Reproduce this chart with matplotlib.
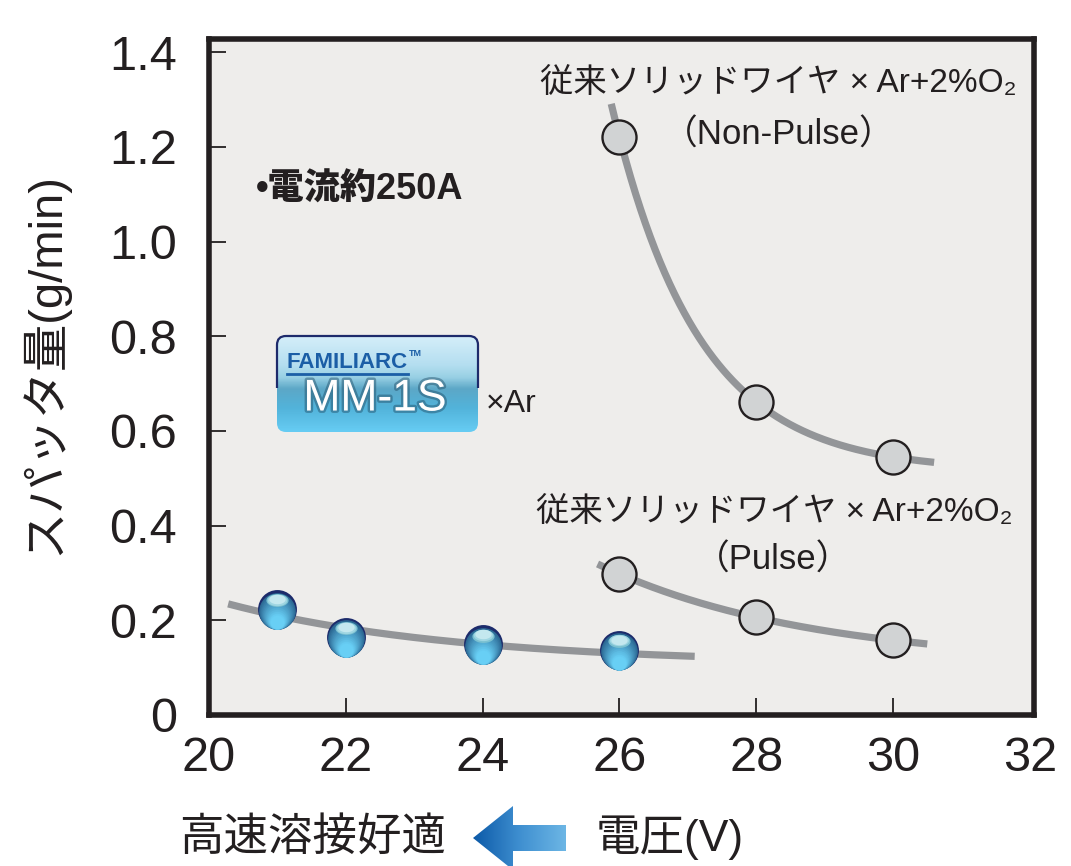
import numpy as np
import matplotlib
matplotlib.use('Agg')
import matplotlib.pyplot as plt
import matplotlib.patheffects as pe
from matplotlib.path import Path
from matplotlib.patches import FancyBboxPatch, Polygon, Rectangle
from matplotlib.transforms import offset_copy
from matplotlib.colors import LinearSegmentedColormap, to_rgb

plt.rcParams['font.family'] = ['Liberation Sans', 'Noto Sans CJK JP', 'DejaVu Sans']

# ---- data ----
volt_mm1s = [21, 22, 24, 26]
spatter_mm1s = [0.223, 0.164, 0.149, 0.137]
volt_nonpulse = [26, 28, 30]
spatter_nonpulse = [1.221, 0.661, 0.545]
volt_pulse = [26, 28, 30]
spatter_pulse = [0.298, 0.206, 0.158]

# voltage span of each drawn trend curve
span_mm1s = (20.28, 27.1)
span_nonpulse = (25.88, 30.6)
span_pulse = (25.68, 30.5)

xticks = [20, 22, 24, 26, 28, 30, 32]
yticks = [0, 0.2, 0.4, 0.6, 0.8, 1.0, 1.2, 1.4]
ytick_labels = ['0', '0.2', '0.4', '0.6', '0.8', '1.0', '1.2', '1.4']

label_conv = '従来ソリッドワイヤ × Ar+2%O₂'
label_nonpulse = '（Non-Pulse）'
label_pulse = '（Pulse）'
label_current = '•電流約250A'
ylabel = 'スパッタ量(g/min)'

INK = '#231f20'
CURVE = '#939598'


def fit_decay(x, y, rates):
    # y = a + b*exp(-c*(x-x0)), c picked from rates by least squares
    x = np.asarray(x, float)
    y = np.asarray(y, float)
    best = None
    for c in rates:
        A = np.column_stack([np.ones_like(x), np.exp(-c * (x - x[0]))])
        coef = np.linalg.lstsq(A, y, rcond=None)[0]
        err = np.sum((A @ coef - y)**2)
        if best is None or err < best[0]:
            best = (err, c, coef)
    _, c, (a, b) = best
    return lambda t: a + b * np.exp(-c * (t - x[0]))


def glass_balls(ax, fig, x, y, size=28, n=22):
    dark = np.array(to_rgb('#2a6590'))
    light = np.array(to_rgb('#68cff5'))
    ax.plot(x, y, 'o', ms=size, mfc='#1c2b6b', mec='none', zorder=4)
    for k in range(n):
        t = k / (n - 1)
        d = (size - 1.6) * (1 - 0.62 * t)
        tr = offset_copy(ax.transData, fig=fig, x=0, y=-(size - d) / 2, units='points')
        ax.plot(x, y, 'o', ms=d, mfc=dark + (light - dark) * t**0.9, mec='none',
                transform=tr, zorder=5)
    th = np.linspace(0, 2 * np.pi, 60)
    ell = Path(np.column_stack([np.cos(th), 0.58 * np.sin(th)]))
    hl = [('#7bc1d1', 0.57, 0.23), ('#9fd6e2', 0.50, 0.25), ('#c4e8ef', 0.42, 0.27)]
    for col, w, up in hl:
        tr = offset_copy(ax.transData, fig=fig, x=0, y=up * size, units='points')
        ax.plot(x, y, marker=ell, ls='none', ms=w * size, mfc=col, mec='none',
                transform=tr, zorder=6)


fig = plt.figure(figsize=(10.71, 8.66), dpi=100)
ax = fig.add_axes([209 / 1071, 1 - 715 / 866, 825 / 1071, 676 / 866])
ax.set_facecolor('#eeedeb')

# trend curves
for vx, vy, span, rates in [(volt_mm1s, spatter_mm1s, span_mm1s, [0.3]),
                            (volt_nonpulse, spatter_nonpulse, span_nonpulse, np.linspace(0.05, 2, 400)),
                            (volt_pulse, spatter_pulse, span_pulse, np.linspace(0.05, 2, 400))]:
    f = fit_decay(vx, vy, rates)
    xs = np.linspace(span[0], span[1], 200)
    ax.plot(xs, f(xs), color=CURVE, lw=5.2, solid_capstyle='butt', zorder=2)

ax.plot(volt_nonpulse, spatter_nonpulse, 'o', ms=24.5, mfc='#d1d3d4', mec=INK, mew=1.7, zorder=4)
ax.plot(volt_pulse, spatter_pulse, 'o', ms=24.5, mfc='#d1d3d4', mec=INK, mew=1.7, zorder=4)
glass_balls(ax, fig, volt_mm1s, spatter_mm1s)

ax.set_xlim(20, 32.06)
ax.set_ylim(0, 1.428)
ax.set_xticks(xticks)
ax.set_yticks(yticks, labels=ytick_labels)
ax.tick_params(direction='in', length=12, width=1.3, color=INK, labelcolor=INK, labelsize=35)
ax.tick_params(axis='x', pad=15)
ax.tick_params(axis='y', pad=23)
ax.xaxis.get_major_ticks()[-1].tick1line.set_visible(False)
for s in ax.spines.values():
    s.set_linewidth(4)
    s.set_color(INK)
    s.set_capstyle('projecting')
ax.set_ylabel(ylabel, fontsize=34, color=INK)
ax.yaxis.set_label_coords(-0.17, 0.52)

# overlay in pixel coordinates for annotations
ov = fig.add_axes([0, 0, 1, 1], zorder=5)
ov.set_xlim(0, 1071)
ov.set_ylim(866, 0)
ov.axis('off')

ov.text(778, 83, label_conv, ha='center', va='center', fontsize=24, color=INK)
ov.text(779, 135, label_nonpulse, ha='center', va='center', fontsize=25, color=INK)
ov.text(774, 512, label_conv, ha='center', va='center', fontsize=24, color=INK)
ov.text(773, 560, label_pulse, ha='center', va='center', fontsize=25, color=INK)
ov.text(256, 190, label_current, ha='left', va='center', fontsize=26, fontweight='heavy', color=INK)
ov.text(486, 404, '×Ar', ha='left', va='center', fontsize=23, color=INK)

# product badge
box_cmap = LinearSegmentedColormap.from_list('box', [
    (0.0, '#d4eef9'), (0.3, '#b4def0'), (0.43, '#98d0e4'), (0.55, '#5ca7c7'),
    (0.75, '#52b3da'), (1.0, '#66ccf3')])
grad = np.linspace(0, 1, 100)[:, None] * np.ones((1, 2))
im = ov.imshow(grad, cmap=box_cmap, extent=(277, 478, 432, 336), aspect='auto', zorder=1)
box = FancyBboxPatch((277, 336), 201, 96, boxstyle='round,pad=0,rounding_size=9',
                     fc='none', ec='none', zorder=1)
ov.add_patch(box)
im.set_clip_path(box)
rim = FancyBboxPatch((277, 336), 201, 96, boxstyle='round,pad=0,rounding_size=9',
                     fc='none', ec='#1d2a6b', lw=1.6, zorder=2)
ov.add_patch(rim)
rim.set_clip_path(Rectangle((270, 328), 220, 60, transform=ov.transData))
ov.text(286, 362, 'FAMILIARC', ha='left', va='center', fontsize=16, fontweight='bold',
        color='#1b5ea6', zorder=3)
ov.plot([287, 408], [374, 374], color='#1b5ea6', lw=2, zorder=3)
ov.text(409, 354, 'TM', ha='left', va='center', fontsize=6.5, fontweight='bold',
        color='#1b5ea6', zorder=3)
ov.text(375, 399, 'MM-1S', ha='center', va='center', fontsize=32, color='white', zorder=3,
        path_effects=[pe.withStroke(linewidth=3.5, foreground='#1e4a63', alpha=0.45)])

# bottom axis caption with arrow
ov.text(313, 838, '高速溶接好適', ha='center', va='center', fontsize=32, color=INK)
ov.text(670, 838, '電圧(V)', ha='center', va='center', fontsize=32, color=INK)
arrow = Polygon([(473, 838), (513, 806), (513, 825), (566, 825), (566, 851),
                 (513, 851), (513, 870), (473, 838)], closed=True, fc='none', ec='none')
ov.add_patch(arrow)
arr_cmap = LinearSegmentedColormap.from_list('arr', ['#0c5aa8', '#3f8fd0', '#6cb6e5'])
ai = ov.imshow(np.linspace(0, 1, 100)[None, :], cmap=arr_cmap, extent=(473, 566, 870, 806),
               aspect='auto', zorder=1)
ai.set_clip_path(arrow)
ov.set_xlim(0, 1071)
ov.set_ylim(866, 0)

fig.savefig('out.png', dpi=100)
